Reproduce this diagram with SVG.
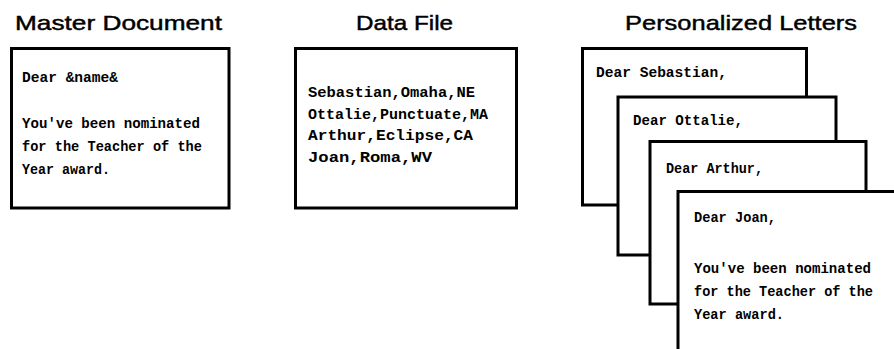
<svg xmlns="http://www.w3.org/2000/svg" width="894" height="349" viewBox="0 0 894 349">
  <style>
    .title { font-family: "Liberation Sans", Arial, sans-serif; font-size: 21px; fill: #000; stroke: #000; stroke-width: 0.45; }
    .page { fill: #fff; stroke: #000; stroke-width: 3; }
    .body { font-family: "Liberation Mono", "Courier New", monospace; font-size: 14px; font-weight: bold; fill: #000; }
  </style>
  <rect width="894" height="349" fill="#fff"/>

  <!-- column headings -->
  <text class="title" x="15" y="30" textLength="207" lengthAdjust="spacingAndGlyphs">Master Document</text>
  <text class="title" x="356" y="30" textLength="97" lengthAdjust="spacingAndGlyphs">Data File</text>
  <text class="title" x="625" y="30" textLength="232" lengthAdjust="spacingAndGlyphs">Personalized Letters</text>

  <!-- template with merge field -->
  <g id="master-document">
    <rect class="page" x="11.5" y="48.5" width="217.5" height="159.5"/>
    <text class="body" x="22" y="82" textLength="96" lengthAdjust="spacingAndGlyphs">Dear &amp;name&amp;</text>
    <text class="body" x="22" y="128" textLength="178" lengthAdjust="spacingAndGlyphs">You've been nominated</text>
    <text class="body" x="22" y="151" textLength="180" lengthAdjust="spacingAndGlyphs">for the Teacher of the</text>
    <text class="body" x="22" y="174" textLength="88" lengthAdjust="spacingAndGlyphs">Year award.</text>
  </g>

  <!-- records to merge -->
  <g id="data-file">
    <rect class="page" x="295.5" y="48.5" width="221" height="159.5"/>
    <text class="body" x="308" y="97" textLength="167" lengthAdjust="spacingAndGlyphs">Sebastian,Omaha,NE</text>
    <text class="body" x="308" y="118.5" textLength="180" lengthAdjust="spacingAndGlyphs">Ottalie,Punctuate,MA</text>
    <text class="body" x="308" y="140" textLength="165" lengthAdjust="spacingAndGlyphs">Arthur,Eclipse,CA</text>
    <text class="body" x="308" y="161.5" textLength="124" lengthAdjust="spacingAndGlyphs">Joan,Roma,WV</text>
  </g>

  <!-- stacked output letters -->
  <g id="letter-sebastian">
    <rect class="page" x="582.5" y="48.5" width="224" height="156.5"/>
    <text class="body" x="596" y="77" textLength="131" lengthAdjust="spacingAndGlyphs">Dear Sebastian,</text>
  </g>
  <g id="letter-ottalie">
    <rect class="page" x="618" y="97" width="218" height="158"/>
    <text class="body" x="633" y="125" textLength="110" lengthAdjust="spacingAndGlyphs">Dear Ottalie,</text>
  </g>
  <g id="letter-arthur">
    <rect class="page" x="650" y="141.5" width="216" height="162.5"/>
    <text class="body" x="666" y="173" textLength="97" lengthAdjust="spacingAndGlyphs">Dear Arthur,</text>
  </g>
  <g id="letter-joan">
    <rect class="page" x="678" y="191.5" width="230" height="170"/>
    <text class="body" x="694" y="222" textLength="82" lengthAdjust="spacingAndGlyphs">Dear Joan,</text>
    <text class="body" x="694" y="273" textLength="177" lengthAdjust="spacingAndGlyphs">You've been nominated</text>
    <text class="body" x="694" y="296" textLength="179" lengthAdjust="spacingAndGlyphs">for the Teacher of the</text>
    <text class="body" x="694" y="319" textLength="90" lengthAdjust="spacingAndGlyphs">Year award.</text>
  </g>

  <!-- no connectors in this figure -->
  <g id="connectors"/>
</svg>
